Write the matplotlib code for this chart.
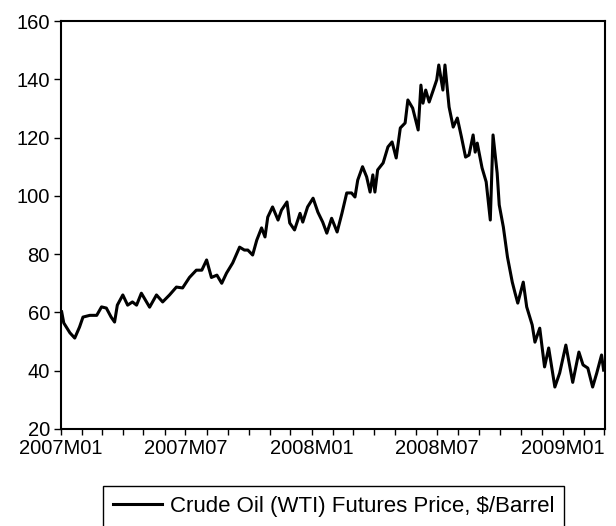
import pandas as pd
import matplotlib
matplotlib.use("Agg")
import matplotlib.pyplot as plt
import matplotlib.dates as mdates

plt.rcParams['font.family'] = ['Liberation Sans', 'DejaVu Sans']

# WTI futures price
dates = [
    "2007-01-02", "2007-01-05", "2007-01-14", "2007-01-21", "2007-01-28", "2007-02-02",
    "2007-02-12", "2007-02-22", "2007-03-01", "2007-03-08", "2007-03-15", "2007-03-20",
    "2007-03-24", "2007-04-01", "2007-04-08", "2007-04-15", "2007-04-21", "2007-04-28",
    "2007-05-10", "2007-05-20", "2007-05-29", "2007-06-08", "2007-06-18", "2007-06-27",
    "2007-07-07", "2007-07-17", "2007-07-25", "2007-08-01", "2007-08-08", "2007-08-16",
    "2007-08-23", "2007-08-30", "2007-09-08", "2007-09-18", "2007-09-25", "2007-09-30",
    "2007-10-07", "2007-10-13", "2007-10-20", "2007-10-25", "2007-10-29", "2007-11-05",
    "2007-11-13", "2007-11-18", "2007-11-26", "2007-11-30", "2007-12-07", "2007-12-15",
    "2007-12-19", "2007-12-26", "2008-01-03", "2008-01-10", "2008-01-17", "2008-01-23",
    "2008-01-30", "2008-02-07", "2008-02-14", "2008-02-21", "2008-02-28", "2008-03-04",
    "2008-03-08", "2008-03-15", "2008-03-21", "2008-03-26", "2008-03-30", "2008-04-02",
    "2008-04-06", "2008-04-14", "2008-04-21", "2008-04-27", "2008-05-03", "2008-05-09",
    "2008-05-16", "2008-05-20", "2008-05-27", "2008-06-04", "2008-06-08", "2008-06-11",
    "2008-06-15", "2008-06-20", "2008-06-26", "2008-07-01", "2008-07-04", "2008-07-10",
    "2008-07-13", "2008-07-19", "2008-07-25", "2008-07-31", "2008-08-06", "2008-08-12",
    "2008-08-17", "2008-08-23", "2008-08-26", "2008-08-29", "2008-09-05", "2008-09-11",
    "2008-09-17", "2008-09-21", "2008-09-27", "2008-09-30", "2008-10-06", "2008-10-12",
    "2008-10-19", "2008-10-23", "2008-10-27", "2008-11-04", "2008-11-09", "2008-11-17",
    "2008-11-21", "2008-11-28", "2008-12-05", "2008-12-11", "2008-12-20", "2008-12-27",
    "2009-01-05", "2009-01-15", "2009-01-24", "2009-01-30", "2009-02-06", "2009-02-13",
    "2009-02-19", "2009-02-26", "2009-03-01",
]
price = [
    60.2, 56.4, 53.0, 51.2, 55.0, 58.4,
    59.0, 59.0, 61.9, 61.5, 58.4, 56.7,
    62.5, 66.0, 62.5, 63.6, 62.5, 66.6,
    61.8, 66.0, 63.6, 66.0, 68.7, 68.4,
    72.0, 74.5, 74.5, 78.0, 72.0, 72.8,
    70.0, 73.5, 77.0, 82.4, 81.4, 81.4,
    79.7, 84.8, 89.0, 85.9, 92.7, 96.2,
    91.7, 95.1, 97.9, 90.7, 88.3, 94.0,
    91.0, 96.2, 99.2, 94.4, 91.0, 87.2,
    92.3, 87.6, 94.0, 101.0, 101.0, 99.6,
    105.4, 110.0, 106.5, 101.3, 107.2, 101.3,
    108.9, 111.3, 116.8, 118.5, 113.0, 123.3,
    125.0, 132.9, 130.1, 122.6, 138.0, 131.8,
    136.3, 132.2, 136.3, 139.8, 144.9, 136.3,
    144.9, 130.5, 123.6, 126.7, 120.2, 113.3,
    114.0, 120.9, 115.0, 118.1, 109.6, 104.8,
    91.7, 120.9, 107.8, 96.9, 89.3, 79.0,
    70.4, 66.7, 63.2, 70.4, 61.9, 55.7,
    49.8, 54.6, 41.3, 47.8, 34.4, 39.2,
    48.8, 36.0, 46.4, 42.0, 40.9, 34.4,
    39.2, 45.4, 40.2,
]
series_label = "Crude Oil (WTI) Futures Price, $/Barrel"
y_ticks = [20, 40, 60, 80, 100, 120, 140, 160]

df = pd.DataFrame({"date": pd.to_datetime(dates), "price": price})

fig = plt.figure(figsize=(6.16, 5.26), dpi=100)
ax = fig.add_axes([61 / 616, 1 - 429 / 526, 544 / 616, 408 / 526])

line, = ax.plot(df["date"], df["price"], color="black", lw=2.2)

ax.set_ylim(20, 160)
ax.set_yticks(y_ticks)
ax.set_xlim(pd.Timestamp("2007-01-01"), pd.Timestamp("2009-03-03"))

ax.xaxis.set_major_locator(mdates.MonthLocator(bymonth=[1, 7]))
ax.xaxis.set_minor_locator(mdates.MonthLocator())
ax.xaxis.set_major_formatter(
    plt.FuncFormatter(lambda v, p: mdates.num2date(v).strftime("%YM%m")))

for s in ax.spines.values():
    s.set_linewidth(1.5)
    s.set_color("black")

ax.tick_params(axis="both", which="both", direction="out", labelsize=14.5,
               color="black", width=1.0)
ax.tick_params(axis="y", length=5, pad=3)
ax.tick_params(axis="x", which="both", length=4, pad=3)

fig.legend([line], [series_label], loc="upper left",
           bbox_to_anchor=(103 / 616, 1 - 486 / 526), fontsize=16,
           frameon=True, fancybox=False, edgecolor="black", framealpha=1,
           handlelength=2.2, handletextpad=0.35, borderpad=0.45,
           borderaxespad=0)

fig.savefig("out.png", dpi=100)
